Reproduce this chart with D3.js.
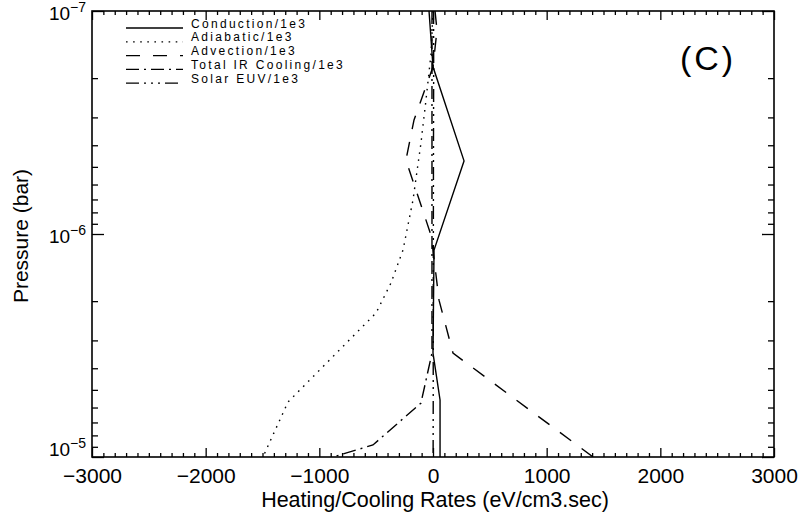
<!DOCTYPE html>
<html>
<head>
<meta charset="utf-8">
<script src="https://cdn.jsdelivr.net/npm/d3@7.9.0/dist/d3.min.js"></script>
<style>
  body { margin: 0; background: #fff; }
  svg { display: block; font-family: "Liberation Sans", Arial, sans-serif; }
</style>
</head>
<body>
<svg id="chart" width="802" height="518"></svg>
<script>
// values: pressure (bar) and rate (eV/cm3.sec)
const conductionP = [1e-7, 1.78e-7, 4.7e-7, 1.18e-6, 3.42e-6, 5.55e-6, 1e-5];
const conductionV = [-35, 0, 273, 9, 0, 62, 62];

const adiabaticP = [1e-7, 1.57e-7, 2.51e-7, 3.91e-7, 7.04e-7, 1.18e-6, 1.66e-6, 2.26e-6, 5.67e-6, 1e-5];
const adiabaticV = [0, -18, -62, -106, -176, -264, -370, -501, -1276, -1496];

const advectionP = [1e-7, 1.22e-7, 1.78e-7, 3.08e-7, 4.66e-7, 1.01e-6, 1.18e-6, 1.98e-6, 3.42e-6, 1e-5];
const advectionV = [18, 35, 0, -167, -238, -18, 0, 53, 176, 1408];

const irP = [1e-7, 3.42e-6, 5.73e-6, 8.83e-6, 1e-5];
const irV = [-9, -9, -106, -528, -880];

const euvP = [1e-7, 1.78e-7, 4.7e-7, 1.18e-6, 3.42e-6, 5.55e-6, 1e-5];
const euvV = [5, 6, 4, 3, 2, 2, 1];

const seriesNames = ["Conduction/1e3", "Adiabatic/1e3", "Advection/1e3", "Total IR Cooling/1e3", "Solar EUV/1e3"];
const xTickValues = [-3000, -2000, -1000, 0, 1000, 2000, 3000];
const yDecades = [1e-7, 1e-6, 1e-5];

const series = [
  { name: seriesNames[0], p: conductionP, v: conductionV, dash: null },
  { name: seriesNames[1], p: adiabaticP, v: adiabaticV, dash: "1.6,5.5" },
  { name: seriesNames[2], p: advectionP, v: advectionV, dash: "14,13" },
  { name: seriesNames[3], p: irP, v: irV, dash: "13,5,2,5" },
  { name: seriesNames[4], p: euvP, v: euvV, dash: "13,5,2,5,2,5,2,5" }
];

const svg = d3.select("#chart");
const plotL = 92, plotR = 774, plotT = 11, plotB = 457;

const x = d3.scaleLinear().domain([-3000, 3000]).range([plotL, plotR]);
const y = d3.scaleLog().domain([1e-7, 1e-5]).range([plotT, plotB]);

svg.append("rect").attr("width", 802).attr("height", 518).attr("fill", "#fff");

svg.append("clipPath").attr("id", "plot-clip")
  .append("rect").attr("x", plotL).attr("y", plotT)
  .attr("width", plotR - plotL).attr("height", plotB - plotT);

// minor and major ticks, all pointing inward
const minorX = d3.range(-3000, 3001, 100).filter(d => d % 1000 !== 0);
const minorY = [];
[1e-7, 1e-6].forEach(dec => {
  for (let k = 2; k <= 9; k++) minorY.push(dec * k);
});

function styleAxis(g) {
  g.select(".domain").remove();
  g.selectAll(".tick line").attr("stroke", "#000").attr("stroke-width", 1.3);
}

svg.append("g").attr("transform", `translate(0,${plotB})`)
  .call(d3.axisBottom(x).tickValues(minorX).tickSize(-4).tickFormat(""))
  .call(styleAxis);
svg.append("g").attr("transform", `translate(0,${plotB})`)
  .call(d3.axisBottom(x).tickValues(xTickValues).tickSize(-9).tickPadding(11)
    .tickFormat(d => d < 0 ? "\u2212" + Math.abs(d) : d))
  .call(styleAxis)
  .call(g => g.selectAll(".tick text").attr("font-size", 21).attr("fill", "#000")
    .attr("font-family", "Liberation Sans, Arial, sans-serif"));

svg.append("g").attr("transform", `translate(0,${plotT})`)
  .call(d3.axisTop(x).tickValues(minorX).tickSize(-4).tickFormat(""))
  .call(styleAxis);
svg.append("g").attr("transform", `translate(0,${plotT})`)
  .call(d3.axisTop(x).tickValues(xTickValues).tickSize(-9).tickFormat(""))
  .call(styleAxis);

svg.append("g").attr("transform", `translate(${plotL},0)`)
  .call(d3.axisLeft(y).tickValues(minorY).tickSize(-6).tickFormat(""))
  .call(styleAxis);
svg.append("g").attr("transform", `translate(${plotL},0)`)
  .call(d3.axisLeft(y).tickValues(yDecades).tickSize(-12).tickFormat(""))
  .call(styleAxis);
svg.append("g").attr("transform", `translate(${plotR},0)`)
  .call(d3.axisRight(y).tickValues(minorY).tickSize(-6).tickFormat(""))
  .call(styleAxis);
svg.append("g").attr("transform", `translate(${plotR},0)`)
  .call(d3.axisRight(y).tickValues(yDecades).tickSize(-12).tickFormat(""))
  .call(styleAxis);

// y tick labels as 10 with superscript exponent
const yLab = svg.append("g").attr("fill", "#000");
yDecades.forEach(d => {
  const cy = Math.min(y(d) + 9, plotB - 1);
  const t = yLab.append("text").attr("x", 86).attr("y", cy)
    .attr("text-anchor", "end");
  t.append("tspan").attr("font-size", 19).text("10");
  t.append("tspan").attr("font-size", 14).attr("dy", -8)
    .text("\u2212" + Math.round(-Math.log10(d)));
});

// frame
svg.append("rect").attr("x", plotL).attr("y", plotT)
  .attr("width", plotR - plotL).attr("height", plotB - plotT)
  .attr("fill", "none").attr("stroke", "#000").attr("stroke-width", 1.6);

// curves
const line = d3.line().x(d => x(d[1])).y(d => y(d[0]));
const plot = svg.append("g").attr("clip-path", "url(#plot-clip)");
series.forEach(s => {
  plot.append("path")
    .attr("d", line(d3.zip(s.p, s.v)))
    .attr("fill", "none")
    .attr("stroke", "#000")
    .attr("stroke-width", 1.4)
    .attr("stroke-dasharray", s.dash);
});

// legend
const legend = svg.append("g");
series.forEach((s, i) => {
  const ly = 28 + i * 13.8;
  legend.append("line")
    .attr("x1", 126).attr("x2", 183).attr("y1", ly).attr("y2", ly)
    .attr("stroke", "#000").attr("stroke-width", 1.3)
    .attr("stroke-dasharray", s.dash);
  legend.append("text").attr("x", 191).attr("y", ly - 0.5)
    .attr("font-size", 12).attr("letter-spacing", 2.3)
    .attr("fill", "#000").text(s.name);
});

svg.append("text").attr("x", 708).attr("y", 70)
  .attr("text-anchor", "middle").attr("font-size", 34)
  .attr("letter-spacing", 3).text("(C)");

// axis titles
svg.append("text").attr("x", 435).attr("y", 507)
  .attr("text-anchor", "middle").attr("font-size", 21.5)
  .text("Heating/Cooling Rates (eV/cm3.sec)");

svg.append("text")
  .attr("transform", "translate(28,236) rotate(-90)")
  .attr("text-anchor", "middle").attr("font-size", 21)
  .text("Pressure (bar)");
</script>
</body>
</html>
